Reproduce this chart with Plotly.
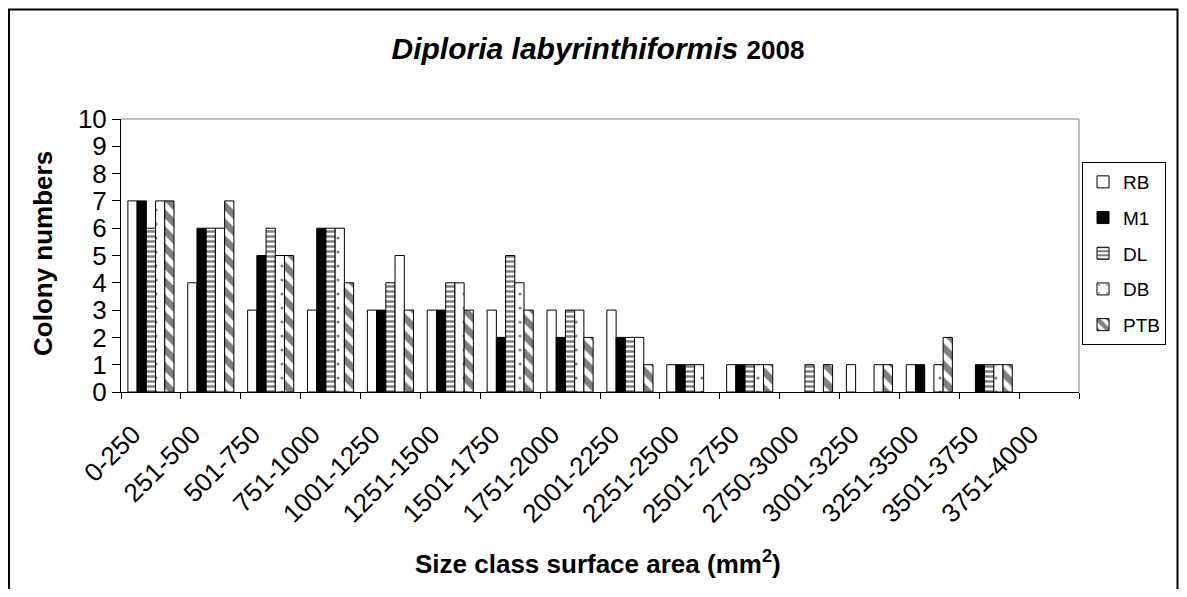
import plotly.graph_objects as go

categories = ["0-250", "251-500", "501-750", "751-1000", "1001-1250", "1251-1500",
              "1501-1750", "1751-2000", "2001-2250", "2251-2500", "2501-2750",
              "2750-3000", "3001-3250", "3251-3500", "3501-3750", "3751-4000"]

rb = [7, 4, 3, 3, 3, 3, 3, 3, 3, 1, 1, 0, 1, 1, 0, 0]
m1 = [7, 6, 5, 6, 3, 3, 2, 2, 2, 1, 1, 0, 0, 1, 1, 0]
dl = [6, 6, 6, 6, 4, 4, 5, 3, 2, 1, 1, 1, 0, 0, 1, 0]
db = [7, 6, 5, 6, 5, 4, 4, 3, 2, 1, 1, 0, 1, 1, 1, 0]
ptb = [7, 7, 5, 4, 3, 3, 3, 2, 1, 0, 1, 1, 1, 2, 1, 0]

FONT = "Arial, Liberation Sans, sans-serif"

# name, values, fill colour, pattern shape, pattern size, solidity
series = [
    ("RB", rb, "white", "", 8, 0.3),
    ("M1", m1, "black", "", 8, 0.3),
    ("DL", dl, "white", "-", 5, 0.5),
    ("DB", db, "white", ".", 14, 0.04),
    ("PTB", ptb, "white", "\\", 12, 0.55),
]

fig = go.Figure()
for name, vals, col, shape, size, sol in series:
    fig.add_trace(go.Bar(
        x=categories, y=[v if v else None for v in vals], name=name, legendgroup=name,
        marker=dict(color=col, line=dict(color="black", width=1),
                    pattern=dict(shape=shape, fgcolor="black", bgcolor=col,
                                 size=size, solidity=sol, fillmode="overlay")),
    ))

# page body has an 8px margin all round; size the figure so the page fits the window
OFF = 8
FW, FH = 1187 - 2 * OFF, 597 - 2 * OFF
# plot area in screen px: x 121..1079, y 119..392
L, R, T, B = 121, 1079, 119, 392
W, H = R - L, B - T


def px(x):
    return (x - L) / W


def py(y):
    return (B - y) / H


fig.update_layout(
    width=FW, height=FH,
    margin=dict(l=L - OFF, r=FW - (R - OFF), t=T - OFF, b=FH - (B - OFF)),
    paper_bgcolor="white", plot_bgcolor="white",
    font=dict(family=FONT, color="black"),
    barmode="group", bargap=0.23, bargroupgap=0,
    title=dict(text="<b><i>Diploria labyrinthiformis</i></b> <b><span style='font-size:26px'>2008</span></b>",
               x=(598 - OFF) / FW, xanchor="center", y=1 - (48 - OFF) / FH, yanchor="middle",
               font=dict(size=30, family=FONT)),
    showlegend=True,
    # legend right edge kept 12px inside the figure so it does not push the margin
    legend=dict(x=px(1166), y=py(162), xanchor="right", yanchor="top",
                bordercolor="black", borderwidth=1, bgcolor="white",
                font=dict(size=19, family=FONT), tracegroupgap=8,
                itemwidth=30),
)

fig.update_xaxes(
    type="category", tickangle=-45, tickson="boundaries",
    ticks="outside", ticklen=6, tickcolor="black",
    showline=True, linecolor="black", linewidth=1,
    showgrid=False, tickfont=dict(size=26, family=FONT),
    ticklabelstandoff=16, ticklabelshift=-18,
)
fig.update_yaxes(
    range=[0, 10], dtick=1, ticks="outside", ticklen=8, tickcolor="black",
    showline=True, linecolor="black", linewidth=1,
    showgrid=False, zeroline=False, tickfont=dict(size=26, family=FONT),
)

# gray top and right border of plot area
fig.add_shape(type="line", xref="paper", yref="paper", x0=0, x1=1, y0=1, y1=1,
              line=dict(color="#808080", width=1))
fig.add_shape(type="line", xref="paper", yref="paper", x0=1, x1=1, y0=0, y1=1,
              line=dict(color="#808080", width=1))
# outer chart border
fig.add_shape(type="rect", xref="paper", yref="paper",
              x0=px(9), x1=px(1177.5), y0=py(9.5), y1=py(620),
              line=dict(color="black", width=2), layer="below")

fig.add_annotation(text="<b>Colony numbers</b>", xref="paper", yref="paper",
                   x=px(43), y=py(254), xanchor="center", yanchor="middle",
                   textangle=-90, showarrow=False,
                   font=dict(size=26, family=FONT))
fig.add_annotation(text="<b>Size class surface area (mm<sup>2</sup>)</b>",
                   xref="paper", yref="paper", x=px(598), y=py(562),
                   xanchor="center", yanchor="middle",
                   showarrow=False, font=dict(size=26, family=FONT))

fig.write_html("out.html")
